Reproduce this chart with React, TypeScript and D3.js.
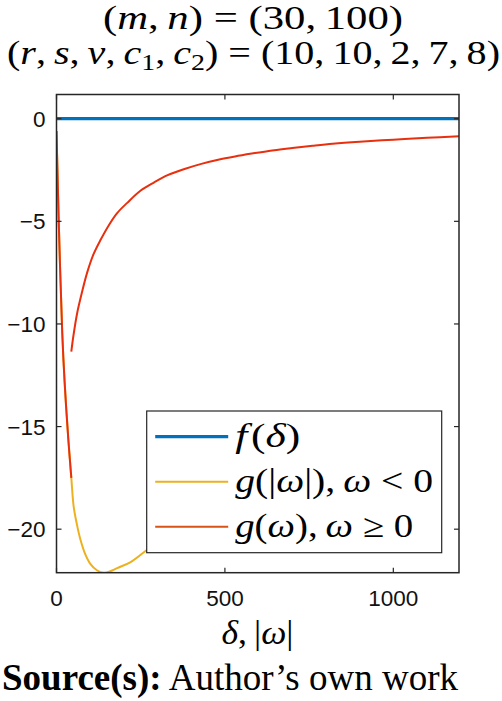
import * as d3 from 'd3';

// f(δ) = 0 across the whole range
const fX = [0, 1195];
const fY = [0, 0];

// g(|ω|), ω < 0  (yellow)
const gNegX = [0, 7, 17, 24, 35, 44, 51, 61, 71, 85, 101, 120, 140, 160, 180, 220, 269, 320];
const gNegY = [-0.6, -5.2, -10.4, -12.8, -15.6, -17.5, -18.9, -19.8, -20.5, -21.2, -21.7, -22.0, -22.12, -22.05, -21.9, -21.6, -21.0, -20.4];

// g(ω), ω ≥ 0 (red): short early piece and the main branch
const gPosLowX = [0, 7, 17, 24, 35, 44];
const gPosLowY = [-0.6, -5.2, -10.4, -12.8, -15.6, -17.5];
const gPosX = [44, 50, 61, 75, 91, 110, 131, 155, 180, 210, 250, 290, 330, 380, 430, 480, 530, 580, 630, 700, 760, 820, 900, 1000, 1100, 1195];
const gPosY = [-11.35, -10.6, -9.5, -8.5, -7.5, -6.6, -5.9, -5.2, -4.6, -4.1, -3.5, -3.1, -2.75, -2.45, -2.2, -2.0, -1.84, -1.7, -1.57, -1.43, -1.32, -1.22, -1.12, -1.02, -0.93, -0.86];

const xTicks = [0, 500, 1000];
const yTicks = [0, -5, -10, -15, -20];

const W = 502;
const H = 701;
const plot = { left: 56.5, right: 459, top: 94.5, bottom: 572.7 };

const BLUE = '#0072BD';
const YELLOW = '#EDB120';
const RED = '#E8300F';
const RED_LEG = '#D95319';
const AX = '#262626';

const mathFont = "'Liberation Serif', 'Times New Roman', serif";
const sansFont = "'Liberation Sans', Arial, sans-serif";

export default function App() {
	const x = d3.scaleLinear().domain([0, 1195]).range([plot.left, plot.right]);
	const y = d3.scaleLinear().domain([1.18, -22.12]).range([plot.top, plot.bottom]);

	const line = (xs: number[], ys: number[]) =>
		d3
			.line<number>()
			.x((d, i) => x(xs[i]))
			.y((d, i) => y(ys[i]))
			.curve(d3.curveCatmullRom.alpha(0.5))(ys) || '';

	const tickLen = 5;
	const legend = { x: 146.7, y: 411, w: 295, h: 141.7 };
	const legRows = [
		{ color: BLUE, width: 3.2 },
		{ color: YELLOW, width: 2 },
		{ color: RED_LEG, width: 2 },
	];
	const rowY = (i: number) => legend.y + 25.7 + i * 45;
	const cx = (plot.left + plot.right) / 2;
	const legTextX = legend.x + 88.5;
	const fit = 'spacingAndGlyphs';

	return (
		<svg
			width={W}
			height={H}
			style={{ position: 'absolute', left: 0, top: 0, background: '#fff' }}
		>
			<defs>
				<clipPath id="plot-clip">
					<rect x={plot.left} y={plot.top} width={plot.right - plot.left} height={plot.bottom - plot.top} />
				</clipPath>
			</defs>

			{/* Title */}
			<text x={103} y={29} fontFamily={mathFont} fontSize={33} textLength={300} lengthAdjust={fit}>
				(<tspan fontStyle="italic">m</tspan>,&#8201;<tspan fontStyle="italic">n</tspan>) = (30,&#8201;100)
			</text>
			<text x={7} y={64} fontFamily={mathFont} fontSize={33} textLength={493} lengthAdjust={fit}>
				(<tspan fontStyle="italic">r</tspan>,&#8201;<tspan fontStyle="italic">s</tspan>,&#8201;
				<tspan fontStyle="italic">v</tspan>,&#8201;<tspan fontStyle="italic">c</tspan>
				<tspan fontSize={23} dy={6}>1</tspan>
				<tspan dy={-6}>,&#8201;</tspan>
				<tspan fontStyle="italic">c</tspan>
				<tspan fontSize={23} dy={6}>2</tspan>
				<tspan dy={-6}>) = (10,&#8201;10,&#8201;2,&#8201;7,&#8201;8)</tspan>
			</text>

			{/* Curves */}
			<g clipPath="url(#plot-clip)" fill="none">
				<path d={line(fX, fY)} stroke={BLUE} strokeWidth={3.2} />
				<path d={line(gNegX, gNegY)} stroke={YELLOW} strokeWidth={2} />
				<path d={line(gPosLowX, gPosLowY)} stroke={RED} strokeWidth={2} />
				<path d={line(gPosX, gPosY)} stroke={RED} strokeWidth={2} />
			</g>

			{/* Axes box */}
			<rect
				x={plot.left}
				y={plot.top}
				width={plot.right - plot.left}
				height={plot.bottom - plot.top}
				fill="none"
				stroke={AX}
				strokeWidth={1.5}
			/>
			{xTicks.map((t) => (
				<g key={`xt${t}`}>
					<line x1={x(t)} x2={x(t)} y1={plot.bottom} y2={plot.bottom - tickLen} stroke={AX} strokeWidth={1.2} />
					<line x1={x(t)} x2={x(t)} y1={plot.top} y2={plot.top + tickLen} stroke={AX} strokeWidth={1.2} />
					<text x={x(t)} y={606} textAnchor="middle" fontFamily={sansFont} fontSize={22.5} fill="#111">
						{t}
					</text>
				</g>
			))}
			{yTicks.map((t) => (
				<g key={`yt${t}`}>
					<line x1={plot.left} x2={plot.left + tickLen} y1={y(t)} y2={y(t)} stroke={AX} strokeWidth={1.2} />
					<line x1={plot.right} x2={plot.right - tickLen} y1={y(t)} y2={y(t)} stroke={AX} strokeWidth={1.2} />
					<text
						x={45.5}
						y={y(t)}
						dy="0.36em"
						textAnchor="end"
						fontFamily={sansFont}
						fontSize={22.5}
						fill="#111"
					>
						{t < 0 ? `\u2212${Math.abs(t)}` : t}
					</text>
				</g>
			))}

			{/* x label */}
			<text x={221.5} y={644} fontFamily={mathFont} fontSize={33} textLength={72} lengthAdjust={fit}>
				<tspan fontStyle="italic">δ</tspan>,&#8201;|<tspan fontStyle="italic">ω</tspan>|
			</text>

			{/* Legend */}
			<rect x={legend.x} y={legend.y} width={legend.w} height={legend.h} fill="#fff" stroke={AX} strokeWidth={1.2} />
			{legRows.map((r, i) => (
				<line
					key={`lg${i}`}
					x1={legend.x + 8.5}
					x2={legend.x + 81.5}
					y1={rowY(i)}
					y2={rowY(i)}
					stroke={r.color}
					strokeWidth={r.width}
				/>
			))}
			<text x={legTextX} y={rowY(0) + 10} fontFamily={mathFont} fontSize={33} textLength={65} lengthAdjust={fit}>
				<tspan fontStyle="italic">f</tspan>&#8202;(<tspan fontStyle="italic">δ</tspan>)
			</text>
			<text x={legTextX} y={rowY(1) + 10} fontFamily={mathFont} fontSize={33} textLength={198} lengthAdjust={fit}>
				<tspan fontStyle="italic">g</tspan>(|<tspan fontStyle="italic">ω</tspan>|),&#8201;
				<tspan fontStyle="italic">ω</tspan> &lt; 0
			</text>
			<text x={legTextX} y={rowY(2) + 10} fontFamily={mathFont} fontSize={33} textLength={178} lengthAdjust={fit}>
				<tspan fontStyle="italic">g</tspan>(<tspan fontStyle="italic">ω</tspan>),&#8201;
				<tspan fontStyle="italic">ω</tspan> ≥ 0
			</text>

			{/* Source */}
			<text x={2} y={690} fontFamily={mathFont} fontSize={37} fill="#000">
				<tspan fontWeight="bold">Source(s):</tspan> Author’s own work
			</text>
		</svg>
	);
}
